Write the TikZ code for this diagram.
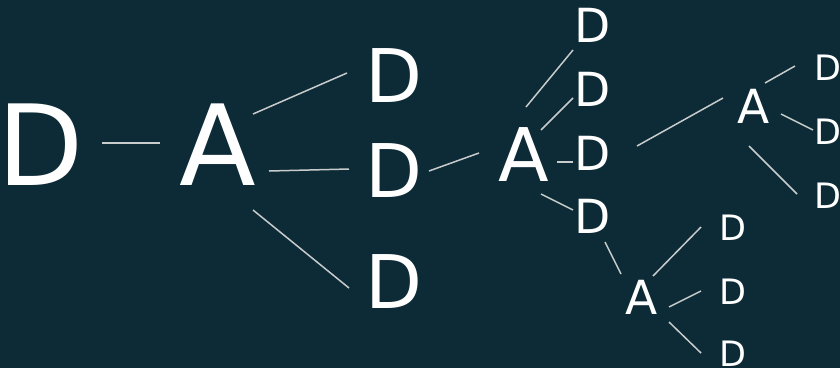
\documentclass[tikz,border=0pt]{standalone}
\usepackage{fontspec}
\setmainfont{DejaVu Sans}
\definecolor{bgteal}{HTML}{0C2B36}
\definecolor{edgegray}{HTML}{C8CCCC}
\tikzset{
  lbl/.style={text=white, inner sep=0pt, anchor=base},
  huge/.style={lbl, font=\fontsize{112}{120}\selectfont},
  big/.style={lbl, font=\fontsize{74}{80}\selectfont},
  mid/.style={lbl, font=\fontsize{47}{52}\selectfont},
  small/.style={lbl, font=\fontsize{35}{40}\selectfont},
  edge/.style={draw=edgegray, line width=1.5pt}
}
\begin{document}
\begin{tikzpicture}[x=1pt, y=-1pt]
  \fill[bgteal] (0,0) rectangle (840,368);
  \useasboundingbox (0,0) rectangle (840,368);

  % root level
  \node[huge] (d0) at (40.4,185) {D};
  \node[huge] (a1) at (217.5,185) {A};
  % first branching
  \node[big] (d1a) at (393.6,102) {D};
  \node[big] (d1b) at (393.6,197) {D};
  \node[big] (d1c) at (393.6,308) {D};
  \node[big] (a2) at (524,181) {A};
  % second branching
  \node[mid] (d2a) at (593,42) {D};
  \node[mid] (d2b) at (593,106) {D};
  \node[mid] (d2c) at (593,170) {D};
  \node[mid] (d2d) at (593,233) {D};
  \node[mid] (a3) at (642,314) {A};
  \node[mid] (a4) at (753.5,123) {A};
  % leaves
  \node[small] (d3a) at (733,240) {D};
  \node[small] (d3b) at (733,304) {D};
  \node[small] (d3c) at (733,366) {D};
  \node[small] (d4a) at (828,80) {D};
  \node[small] (d4b) at (828,144) {D};
  \node[small] (d4c) at (828,208) {D};

  % connectors
  \draw[edge] ([shift={(61.6,-42)}]d0.base) -- ([shift={(-57.5,-42)}]a1.base);
  \draw[edge] ([shift={(35.5,-71)}]a1.base) -- ([shift={(-46.6,-29)}]d1a.base);
  \draw[edge] ([shift={(51.5,-14)}]a1.base) -- ([shift={(-44.6,-28)}]d1b.base);
  \draw[edge] ([shift={(35.5,25)}]a1.base) -- ([shift={(-44.6,-20)}]d1c.base);
  \draw[edge] ([shift={(35.4,-26)}]d1b.base) -- ([shift={(-45,-28)}]a2.base);
  \draw[edge] ([shift={(2,-74)}]a2.base) -- ([shift={(-20,8)}]d2a.base);
  \draw[edge] ([shift={(17,-51)}]a2.base) -- ([shift={(-20,-8)}]d2b.base);
  \draw[edge] ([shift={(33,-19)}]a2.base) -- ([shift={(-20,-8)}]d2c.base);
  \draw[edge] ([shift={(17,13)}]a2.base) -- ([shift={(-20,-23)}]d2d.base);
  \draw[edge] ([shift={(12,9)}]d2d.base) -- ([shift={(-21,-40)}]a3.base);
  \draw[edge] ([shift={(11,-38)}]a3.base) -- ([shift={(-32,-13)}]d3a.base);
  \draw[edge] ([shift={(27,-7)}]a3.base) -- ([shift={(-32,-13)}]d3b.base);
  \draw[edge] ([shift={(27,8)}]a3.base) -- ([shift={(-32,-13)}]d3c.base);
  \draw[edge] ([shift={(44,-24)}]d2c.base) -- ([shift={(-30.5,-25)}]a4.base);
  \draw[edge] ([shift={(11.5,-40)}]a4.base) -- ([shift={(-33,-14)}]d4a.base);
  \draw[edge] ([shift={(27.5,-9)}]a4.base) -- ([shift={(-15,-14)}]d4b.base);
  \draw[edge] ([shift={(-4.5,23)}]a4.base) -- ([shift={(-31,-14)}]d4c.base);
\end{tikzpicture}
\end{document}
